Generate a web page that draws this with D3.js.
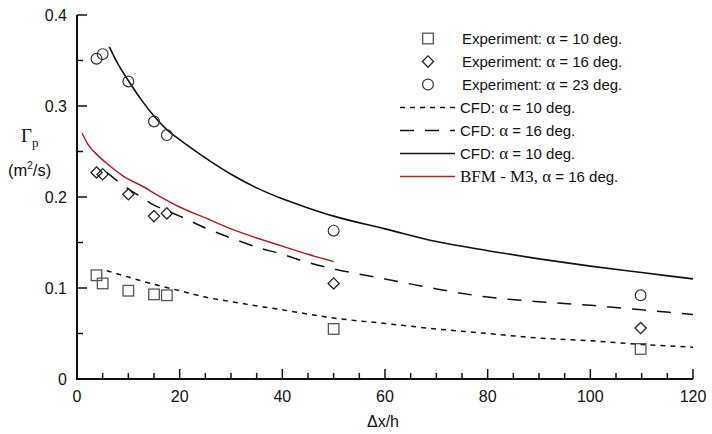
<!DOCTYPE html>
<html>
<head>
<meta charset="utf-8">
<script src="https://cdn.jsdelivr.net/npm/d3@7"></script>
<style>
  body { margin: 0; background: #fff; }
  text { font-family: "Liberation Sans", Arial, sans-serif; }
</style>
</head>
<body>
<div id="chart"></div>
<script>
// data
var xTicks = [0, 20, 40, 60, 80, 100, 120];
var yTicks = [0, 0.1, 0.2, 0.3, 0.4];
var yTickLabels = ["0", "0.1", "0.2", "0.3", "0.4"];

var expX = [3.8, 5.0, 10, 15, 17.5, 50, 109.8];
var exp10 = [0.114, 0.105, 0.097, 0.093, 0.092, 0.055, 0.033];
var exp16 = [0.227, 0.225, 0.203, 0.179, 0.182, 0.105, 0.056];
var exp23 = [0.352, 0.357, 0.327, 0.283, 0.268, 0.163, 0.092];

var cfd10X = [5.8, 10, 15, 20, 25, 30, 40, 50, 60, 70, 80, 90, 100, 110, 120];
var cfd10Y = [0.119, 0.112, 0.104, 0.097, 0.090, 0.085, 0.076, 0.067, 0.061, 0.055, 0.050, 0.045, 0.042, 0.038, 0.035];

var cfd16X = [5.8, 8, 10, 12.5, 15, 17.5, 20, 25, 30, 35, 40, 45, 50, 60, 70, 80, 90, 100, 110, 120];
var cfd16Y = [0.227, 0.217, 0.209, 0.200, 0.191, 0.185, 0.179, 0.166, 0.155, 0.145, 0.137, 0.128, 0.121, 0.110, 0.099, 0.090, 0.085, 0.081, 0.076, 0.071];

var cfd23X = [6.3, 8, 10, 12.5, 15, 17.5, 20, 25, 30, 35, 40, 45, 50, 60, 70, 80, 90, 100, 110, 120];
var cfd23Y = [0.365, 0.346, 0.328, 0.307, 0.289, 0.274, 0.263, 0.243, 0.225, 0.210, 0.198, 0.188, 0.179, 0.165, 0.151, 0.141, 0.132, 0.124, 0.117, 0.110];

var bfmX = [1, 2, 4, 6, 9, 13, 16, 20, 25, 30, 35, 40, 45, 50];
var bfmY = [0.270, 0.259, 0.246, 0.236, 0.223, 0.211, 0.201, 0.189, 0.177, 0.165, 0.155, 0.146, 0.137, 0.129];

var legendPrefix = ["Experiment: ", "Experiment: ", "Experiment: ", "CFD: ", "CFD: ", "CFD: ", "BFM - M3, "];
var legendSuffix = [" = 10 deg.", " = 16 deg.", " = 23 deg.", " = 10 deg.", " = 16 deg.", " = 10 deg.", " = 16 deg."];

var W = 712, H = 434;
var x0 = 77, x1 = 693, y0 = 379, y1 = 15;
var serif = "'Liberation Serif', 'Times New Roman', serif";

var svg = d3.select("#chart").append("svg")
    .attr("width", W).attr("height", H);

var x = d3.scaleLinear().domain([0, 120]).range([x0, x1]);
var y = d3.scaleLinear().domain([0, 0.4]).range([y0, y1]);

// axes
var xAxis = svg.append("g").attr("transform", "translate(0," + y0 + ")");
xAxis.append("line").attr("x1", x0).attr("x2", x1).attr("stroke", "#111").attr("stroke-width", 2);
xAxis.selectAll(".mt").data(d3.range(0, 121, 5)).enter().append("line")
    .attr("x1", d => x(d)).attr("x2", d => x(d))
    .attr("y1", 0).attr("y2", d => d % 20 == 0 ? -10 : -6)
    .attr("stroke", "#111").attr("stroke-width", 1.5);
xAxis.selectAll(".lb").data(xTicks).enter().append("text")
    .attr("x", d => x(d)).attr("y", 23)
    .attr("text-anchor", "middle").attr("font-size", "16px").attr("fill", "#111")
    .text(d => d);

var yAxis = svg.append("g").attr("transform", "translate(" + x0 + ",0)");
yAxis.append("line").attr("y1", y0 + 1).attr("y2", y1).attr("stroke", "#111").attr("stroke-width", 2);
yAxis.selectAll(".mt").data(d3.range(0, 0.401, 0.05)).enter().append("line")
    .attr("y1", d => y(d)).attr("y2", d => y(d))
    .attr("x1", 0).attr("x2", (d, i) => i % 2 == 0 ? 10 : 6)
    .attr("stroke", "#111").attr("stroke-width", 1.5);
yAxis.selectAll(".lb").data(yTicks).enter().append("text")
    .attr("x", -10).attr("y", d => y(d) + 6)
    .attr("text-anchor", "end").attr("font-size", "16px").attr("fill", "#111")
    .text((d, i) => yTickLabels[i]);

// axis titles
svg.append("text").attr("x", 383).attr("y", 427)
    .attr("text-anchor", "middle").attr("font-size", "16px").attr("fill", "#111")
    .text("\u0394x/h");
var gt = svg.append("text").attr("x", 21).attr("y", 142).attr("fill", "#111");
gt.append("tspan").attr("font-family", serif).attr("font-size", "19px").text("\u0393");
gt.append("tspan").attr("font-family", serif).attr("font-size", "13px").attr("dy", 5).text("p");
var ut = svg.append("text").attr("x", 8).attr("y", 176).attr("font-size", "16.5px").attr("fill", "#111");
ut.append("tspan").text("(m");
ut.append("tspan").attr("font-size", "10px").attr("dy", -7).text("2");
ut.append("tspan").attr("dy", 7).text("/s)");

// curves
var line = d3.line().x(d => x(d[0])).y(d => y(d[1])).curve(d3.curveMonotoneX);
function drawCurve(xs, ys, color, dash, sw) {
    svg.append("path")
        .datum(xs.map((v, i) => [v, ys[i]]))
        .attr("d", line)
        .attr("fill", "none")
        .attr("stroke", color)
        .attr("stroke-width", sw)
        .attr("stroke-dasharray", dash);
}
drawCurve(cfd10X, cfd10Y, "#111", "5,5", 1.5);
drawCurve(cfd16X, cfd16Y, "#111", "14,11", 1.5);
drawCurve(cfd23X, cfd23Y, "#111", null, 1.6);
drawCurve(bfmX, bfmY, "#a8202c", null, 1.5);

// markers
function square(g, cx, cy) {
    g.append("rect").attr("x", cx - 5.3).attr("y", cy - 5.3).attr("width", 10.6).attr("height", 10.6)
        .attr("fill", "none").attr("stroke", "#555").attr("stroke-width", 1.3);
}
function diamond(g, cx, cy) {
    g.append("path").attr("d", "M" + cx + "," + (cy - 5.6) + "L" + (cx + 5.6) + "," + cy + "L" + cx + "," + (cy + 5.6) + "L" + (cx - 5.6) + "," + cy + "Z")
        .attr("fill", "none").attr("stroke", "#222").attr("stroke-width", 1.3);
}
function circle(g, cx, cy) {
    g.append("circle").attr("cx", cx).attr("cy", cy).attr("r", 5.4)
        .attr("fill", "none").attr("stroke", "#333").attr("stroke-width", 1.2);
}
var pts = svg.append("g");
expX.forEach((v, i) => {
    square(pts, x(v), y(exp10[i]));
    diamond(pts, x(v), y(exp16[i]));
    circle(pts, x(v), y(exp23[i]));
});

// legend
var lg = svg.append("g");
var rowY = d3.range(7).map(i => 38.5 + i * 23);
square(lg, 428, rowY[0]);
diamond(lg, 428, rowY[1]);
circle(lg, 428, rowY[2]);
var legDash = ["5,5", "14,11", null, null];
var legCol = ["#111", "#111", "#111", "#a8202c"];
legDash.forEach((d, i) => {
    lg.append("line").attr("x1", 400).attr("x2", 455)
        .attr("y1", rowY[i + 3]).attr("y2", rowY[i + 3])
        .attr("stroke", legCol[i]).attr("stroke-width", 1.5)
        .attr("stroke-dasharray", d);
});
legendPrefix.forEach((p, i) => {
    var t = lg.append("text").attr("x", i < 3 ? 462 : 460).attr("y", rowY[i] + 5.5)
        .attr("font-size", "15px").attr("fill", "#111");
    var pre = t.append("tspan").text(p);
    if (i == 6) pre.attr("font-family", serif).attr("font-size", "17px");
    t.append("tspan").attr("font-family", serif).attr("font-size", "17px").text("\u03b1");
    t.append("tspan").text(legendSuffix[i]);
});
</script>
</body>
</html>
